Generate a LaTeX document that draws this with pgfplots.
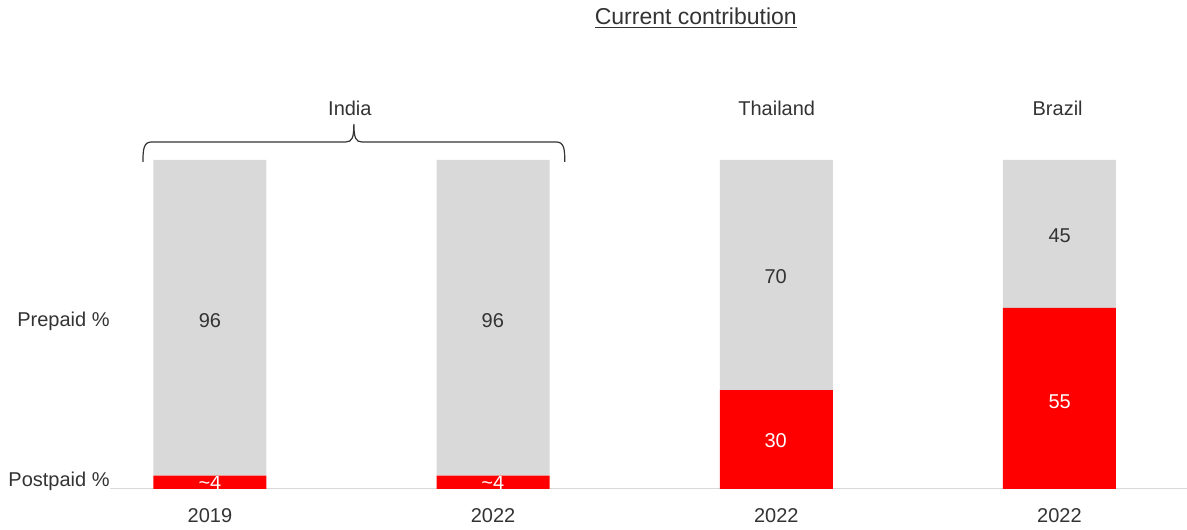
\documentclass[border=0pt]{standalone}
\usepackage{pgfplots}
\pgfplotsset{compat=1.18}
\usepackage{fontspec}
\setmainfont{Liberation Sans}
\definecolor{pre}{HTML}{D9D9D9}
\definecolor{post}{HTML}{FF0000}
\definecolor{txt}{HTML}{333333}
\begin{document}
\begin{tikzpicture}[font=\fontsize{10}{12}\selectfont, text=txt]
\begin{scope}[shift={(-55pt,244.5pt)},x=0.5pt,y=-0.5pt]
\useasboundingbox (0,0) rectangle (1187,528);
\end{scope}
\begin{axis}[
  scale only axis, width=538.5pt, height=164.5pt,
  xmin=-0.353, xmax=3.449, ymin=0, ymax=100,
  ybar stacked, bar width=56.5pt,
  axis x line=bottom, axis y line=none,
  x axis line style={draw=pre, -},
  xtick={0,1,2,3},
  xticklabels={\textrm{2019},\textrm{2022},\textrm{2022},\textrm{2022}},
  major tick length=0pt,
  ytick=\empty,
  clip=false,
  xticklabel style={font=\fontsize{10}{12}\selectfont, text=txt, anchor=base, yshift=-17pt},
  /pgf/number format/assume math mode=true,
]
\addplot[fill=post, draw=none] coordinates {(0,4) (1,4) (2,30) (3,55)};
\addplot[fill=pre, draw=none] coordinates {(0,96) (1,96) (2,70) (3,45)};
\end{axis}
\begin{scope}[shift={(-55pt,244.5pt)},x=0.5pt,y=-0.5pt]
\node at (210,321) {96};
\node at (493,321) {96};
\node at (776,277) {70};
\node at (1060,236) {45};
\begin{scope}
\clip (150,477) rectangle (1120,489);
\node[text=white] at (210,483) {\textasciitilde4};
\node[text=white] at (493,483) {\textasciitilde4};
\end{scope}
\node[text=white] at (776,441) {30};
\node[text=white] at (1060,402) {55};
\node at (696,18) {\fontsize{11.5}{13}\selectfont\underline{Current contribution}};
\node at (350,108) {India};
\node at (777,108) {Thailand};
\node at (1058,108) {Brazil};
\node[anchor=east, inner sep=0pt] at (110,321) {Prepaid \%};
\node[anchor=east, inner sep=0pt] at (110,481) {Postpaid \%};
\draw[txt, line width=0.6pt] (143,162) .. controls (143,148) and (144,142) .. (152,142) -- (346,142) .. controls (352,142) and (354,138) .. (354,124) .. controls (354,138) and (356,142) .. (362,142) -- (556,142) .. controls (564,142) and (565,148) .. (565,162);
\end{scope}
\end{tikzpicture}
\end{document}
